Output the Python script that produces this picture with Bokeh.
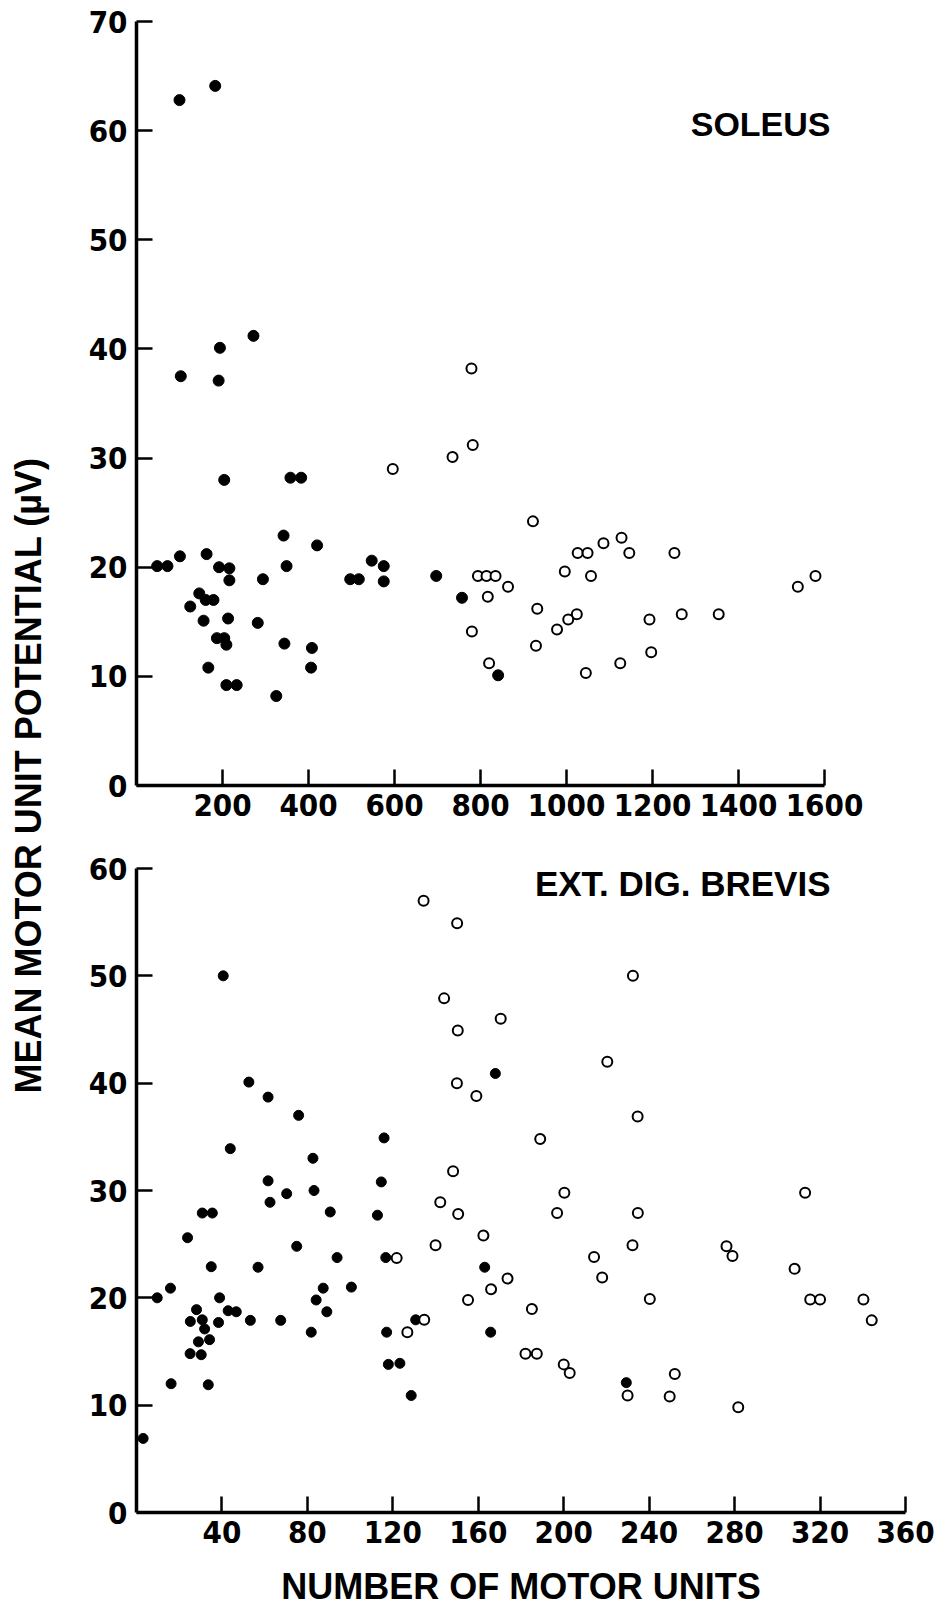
import math
from bokeh.plotting import figure
from bokeh.models import Range1d, FixedTicker, Label
from bokeh.layouts import row, column
from bokeh.embed import file_html
from bokeh.resources import INLINE

# ---------------- data ----------------
soleus_filled_x = [100, 183, 272, 194, 103, 191, 204, 358, 383, 342, 420, 101, 163, 48, 72,
                   192, 216, 216, 349, 294, 547, 575, 575, 497, 517, 697, 757, 125, 146, 161,
                   179, 156, 213, 282, 187, 204, 209, 344, 408, 406, 167, 209, 233, 325, 841]
soleus_filled_y = [62.8, 64.1, 41.2, 40.1, 37.5, 37.1, 28.0, 28.2, 28.2, 22.9, 22.0, 21.0, 21.2, 20.1, 20.1,
                   20.0, 19.9, 18.8, 20.1, 18.9, 20.6, 20.1, 18.7, 18.9, 18.9, 19.2, 17.2, 16.4, 17.6, 17.0,
                   17.0, 15.1, 15.3, 14.9, 13.5, 13.5, 12.9, 13.0, 12.6, 10.8, 10.8, 9.2, 9.2, 8.2, 10.1]
soleus_open_x = [596, 735, 779, 782, 780, 922, 1086, 1128, 1026, 1049, 1146, 1251, 996, 1057, 794,
                 814, 835, 864, 817, 1538, 1579, 932, 1024, 1004, 978, 1193, 1268, 1354, 929, 1197,
                 820, 1125, 1045]
soleus_open_y = [29.0, 30.1, 38.2, 31.2, 14.1, 24.2, 22.2, 22.7, 21.3, 21.3, 21.3, 21.3, 19.6, 19.2, 19.2,
                 19.2, 19.2, 18.2, 17.3, 18.2, 19.2, 16.2, 15.7, 15.2, 14.3, 15.2, 15.7, 15.7, 12.8, 12.2,
                 11.2, 11.2, 10.3]

edb_filled_x = [40.6, 52.6, 61.6, 75.9, 115.9, 43.9, 82.6, 61.6, 114.6, 70.3, 83.1, 62.5, 90.7, 112.8,
                30.8, 35.5, 168.0, 23.9, 75.0, 116.7, 93.9, 35.0, 56.9, 15.9, 100.6, 87.4, 9.7, 38.9,
                84.1, 28.1, 42.9, 46.7, 89.1, 25.2, 30.8, 31.9, 38.4, 53.3, 67.5, 130.7, 81.8, 117.1,
                29.0, 34.2, 25.1, 30.3, 117.9, 123.3, 16.2, 33.6, 128.6, 3.1, 163.0, 165.8, 229.3]
edb_filled_y = [50.0, 40.1, 38.7, 37.0, 34.9, 33.9, 33.0, 30.9, 30.8, 29.7, 30.0, 28.9, 28.0, 27.7,
                27.9, 27.9, 40.9, 25.6, 24.8, 23.75, 23.75, 22.9, 22.85, 20.9, 21.0, 20.9, 20.0, 20.0,
                19.8, 18.9, 18.8, 18.7, 18.7, 17.8, 17.95, 17.1, 17.7, 17.9, 17.9, 17.95, 16.8, 16.8,
                15.9, 16.1, 14.8, 14.7, 13.8, 13.9, 12.0, 11.9, 10.9, 6.9, 22.85, 16.8, 12.1]
edb_open_x = [134.4, 150.1, 144.0, 150.4, 150.0, 148.2, 142.2, 150.6, 232.4, 170.5, 220.4, 159.1,
              234.6, 189.0, 200.3, 313.0, 196.9, 234.7, 140.0, 121.8, 155.2, 134.7, 126.8, 162.4,
              232.2, 276.2, 279.0, 214.2, 173.7, 218.0, 308.1, 166.0, 240.3, 315.4, 320.0, 340.3,
              344.2, 185.1, 182.1, 187.4, 200.0, 202.8, 252.0, 229.9, 249.6, 281.7]
edb_open_y = [57.0, 54.9, 47.9, 44.9, 40.0, 31.8, 28.9, 27.8, 50.0, 46.0, 42.0, 38.8,
              36.9, 34.8, 29.8, 29.8, 27.9, 27.9, 24.9, 23.7, 19.8, 17.95, 16.8, 25.8,
              24.9, 24.8, 23.9, 23.8, 21.8, 21.9, 22.7, 20.8, 19.9, 19.85, 19.85, 19.85,
              17.9, 18.95, 14.8, 14.8, 13.8, 13.0, 12.9, 10.9, 10.8, 9.8]

soleus_x_ticks = [200, 400, 600, 800, 1000, 1200, 1400, 1600]
soleus_y_ticks = [0, 10, 20, 30, 40, 50, 60, 70]
edb_x_ticks = [40, 80, 120, 160, 200, 240, 280, 320, 360]
edb_y_ticks = [0, 10, 20, 30, 40, 50, 60]

TICK_FONT = "DejaVu Sans Condensed"
TEXT_FONT = "Liberation Sans"
LW = 60
MAIN_W = 945 - LW
FRAME_L = 136          # canvas x of frame left (both panels, aligned by the column)
FRAME_R = 905          # canvas x of frame right
SOLEUS_END_PX = 824    # canvas x where the soleus axis (1600) ends


def style(p, xt, yt):
    p.grid.visible = False
    p.outline_line_color = None
    p.background_fill_color = "white"
    p.border_fill_color = "white"
    p.xaxis.ticker = FixedTicker(ticks=xt)
    p.yaxis.ticker = FixedTicker(ticks=yt)
    for ax in (p.xaxis, p.yaxis):
        ax.axis_line_width = 3.5
        ax.axis_line_color = "black"
        ax.major_tick_line_width = 2.5
        ax.major_tick_line_color = "black"
        ax.major_tick_in = 16
        ax.major_tick_out = 0
        ax.minor_tick_line_color = None
        ax.major_label_text_font = TICK_FONT
        ax.major_label_text_font_style = "bold"
        ax.major_label_text_font_size = "31px"
        ax.major_label_text_color = "black"
    p.xaxis.major_label_standoff = 8
    p.yaxis.major_label_standoff = 9


# ---------------- top: SOLEUS ----------------
H1 = 845
x_end_top = 1600 * (FRAME_R - FRAME_L) / (SOLEUS_END_PX - FRAME_L)
p1 = figure(width=MAIN_W, height=H1, output_backend="svg", toolbar_location=None,
            x_range=Range1d(0, x_end_top), y_range=Range1d(0, 70),
            min_border_left=FRAME_L - LW, min_border_right=945 - FRAME_R, min_border_top=21,
            min_border_bottom=H1 - 785)
style(p1, soleus_x_ticks, soleus_y_ticks)
p1.xaxis.bounds = (0, 1600)
p1.scatter(soleus_filled_x, soleus_filled_y, size=11, marker="circle",
           fill_color="black", line_color="black")
p1.scatter(soleus_open_x, soleus_open_y, size=10, marker="circle",
           fill_color="white", line_color="black", line_width=2)
p1.add_layout(Label(x=1614, y=60.6, text="SOLEUS", text_align="right",
                    text_baseline="alphabetic", text_font=TEXT_FONT, text_font_style="bold",
                    text_font_size="34px", text_color="black"))

# ---------------- bottom: EXT. DIG. BREVIS ----------------
H2 = 1609 - H1
p2 = figure(width=MAIN_W, height=H2, output_backend="svg", toolbar_location=None,
            x_range=Range1d(0, 360), y_range=Range1d(0, 60),
            min_border_left=FRAME_L - LW, min_border_right=945 - FRAME_R, min_border_top=868 - H1,
            min_border_bottom=1609 - 1513)
style(p2, edb_x_ticks, edb_y_ticks)
p2.xaxis.axis_label = "NUMBER OF MOTOR UNITS"
p2.xaxis.axis_label_text_font = TEXT_FONT
p2.xaxis.axis_label_text_font_style = "bold"
p2.xaxis.axis_label_text_font_size = "36px"
p2.xaxis.axis_label_text_color = "black"
p2.xaxis.axis_label_standoff = 20
p2.scatter(edb_filled_x, edb_filled_y, size=10, marker="circle",
           fill_color="black", line_color="black")
p2.scatter(edb_open_x, edb_open_y, size=10, marker="circle",
           fill_color="white", line_color="black", line_width=2)
p2.add_layout(Label(x=324.9, y=58.6, text="EXT. DIG. BREVIS", text_align="right",
                    text_baseline="alphabetic", text_font=TEXT_FONT, text_font_style="bold",
                    text_font_size="35px", text_color="black"))

# ---------------- shared y-axis title ----------------
p0 = figure(width=LW, height=1609, output_backend="svg", toolbar_location=None,
            x_range=Range1d(0, LW), y_range=Range1d(0, 1609),
            min_border=0, min_border_left=0, min_border_right=0,
            min_border_top=0, min_border_bottom=0)
p0.axis.visible = False
p0.grid.visible = False
p0.outline_line_color = None
p0.add_layout(Label(x=28, y=1609 - 775, text="MEAN MOTOR UNIT POTENTIAL (\u00b5V)",
                    angle=math.pi / 2, text_align="center", text_baseline="middle",
                    text_font=TEXT_FONT, text_font_style="bold", text_font_size="36px",
                    text_color="black"))

layout = row(p0, column(p1, p2, spacing=0), spacing=0)
open("out.html", "w").write(file_html(layout, INLINE))
